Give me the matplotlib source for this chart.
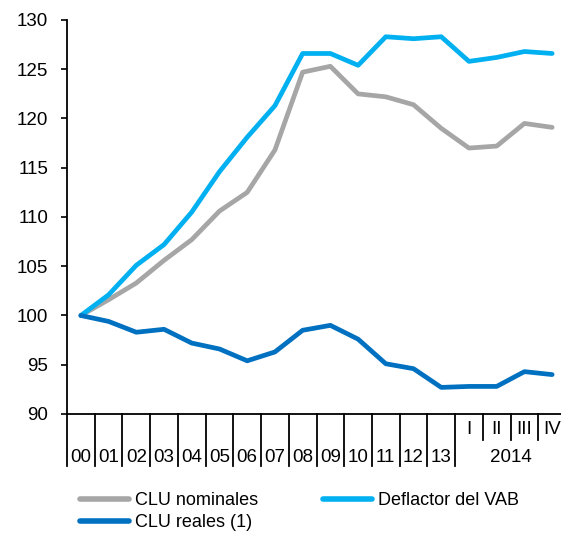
import matplotlib
matplotlib.use("Agg")
import matplotlib.pyplot as plt

plt.rcParams['font.family'] = ['Liberation Sans', 'DejaVu Sans']

years = ["00", "01", "02", "03", "04", "05", "06", "07", "08", "09", "10", "11", "12", "13"]
quarters = ["I", "II", "III", "IV"]
quarter_year = "2014"

clu_nominales = [100.0, 101.6, 103.3, 105.6, 107.7, 110.6, 112.5, 116.8, 124.7, 125.3,
                 122.5, 122.2, 121.4, 119.0, 117.0, 117.2, 119.5, 119.1]
deflactor_vab = [100.0, 102.1, 105.1, 107.2, 110.5, 114.6, 118.1, 121.3, 126.6, 126.6,
                 125.4, 128.3, 128.1, 128.3, 125.8, 126.2, 126.8, 126.6]
clu_reales = [100.0, 99.4, 98.3, 98.6, 97.2, 96.6, 95.4, 96.3, 98.5, 99.0,
              97.6, 95.1, 94.6, 92.7, 92.8, 92.8, 94.3, 94.0]

yticks = [90, 95, 100, 105, 110, 115, 120, 125, 130]

GRAY = "#A6A6A6"
LIGHT = "#00B0F0"
DARK = "#0070C0"

fig = plt.figure(figsize=(5.61, 5.41), dpi=100)
ax = fig.add_axes([67 / 561, 1 - 414 / 541, 499 / 561, 394 / 541])

x = list(range(len(clu_nominales)))
style = dict(linewidth=3.4, solid_joinstyle='round', solid_capstyle='round')
l1, = ax.plot(x, clu_nominales, color=GRAY, label="CLU nominales", **style)
l2, = ax.plot(x, deflactor_vab, color=LIGHT, label="Deflactor del VAB", **style)
l3, = ax.plot(x, clu_reales, color=DARK, label="CLU reales (1)", **style)

ax.set_xlim(-0.5, len(x) - 0.5)
ax.set_ylim(90, 130)
ax.set_yticks(yticks)
ax.set_xticks([])
ax.tick_params(axis='y', direction='out', length=4, width=1.2, pad=9.5, labelsize=13.5)
for s in ["top", "right"]:
    ax.spines[s].set_visible(False)
for s in ["left", "bottom"]:
    ax.spines[s].set_linewidth(1.3)

# category separators and labels under the axis
trans = ax.get_xaxis_transform()
long_sep = -52 / 394
short_sep = -26 / 394
for i in range(len(years) + 1):
    ax.plot([i - 0.5, i - 0.5], [0, long_sep], color="black", lw=1.3,
            transform=trans, clip_on=False)
for i, lab in enumerate(years):
    ax.text(i, -43 / 394, lab, transform=trans, ha="center", va="center", fontsize=13.5)
n0 = len(years)
for j in range(1, len(quarters)):
    ax.plot([n0 + j - 0.5, n0 + j - 0.5], [0, short_sep], color="black", lw=1.3,
            transform=trans, clip_on=False)
for j, lab in enumerate(quarters):
    ax.text(n0 + j, -16 / 394, lab, transform=trans, ha="center", va="center", fontsize=13.5)
ax.text(n0 + (len(quarters) - 1) / 2, -43 / 394, quarter_year, transform=trans,
        ha="center", va="center", fontsize=13.5)

leg = fig.legend(handles=[l1, l3, l2], ncol=2, loc="upper left",
                 bbox_to_anchor=(80 / 561, 1 - 492 / 541), frameon=False,
                 fontsize=13, borderpad=0, borderaxespad=0, handlelength=2.7,
                 handletextpad=0.35, columnspacing=3.6, labelspacing=0.3)
for h in leg.legend_handles:
    h.set_linewidth(4.0)

fig.savefig("out.png", dpi=100)
